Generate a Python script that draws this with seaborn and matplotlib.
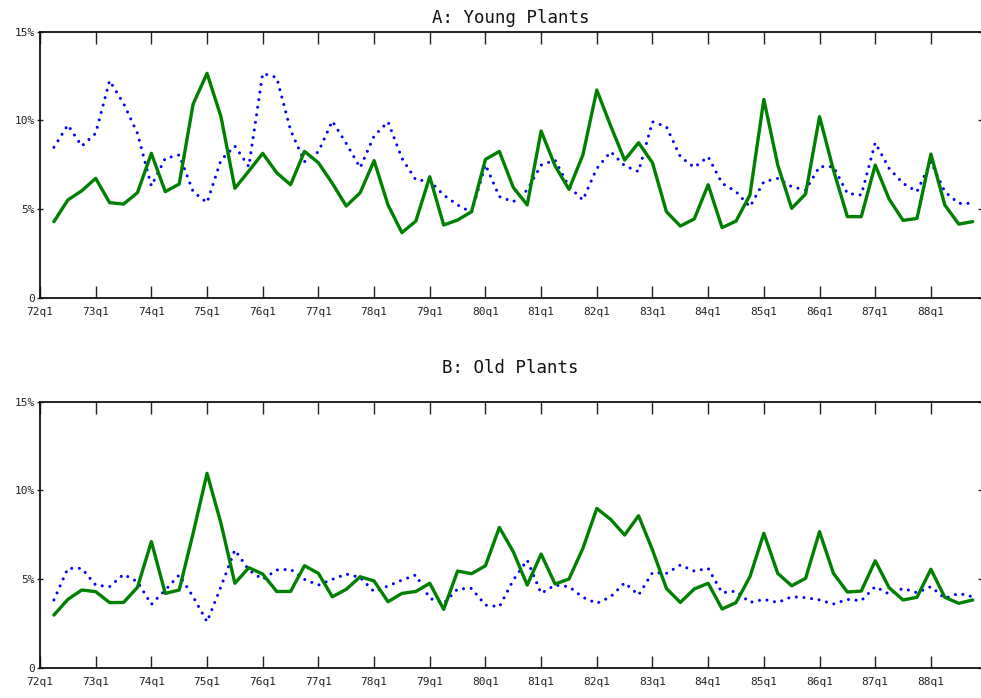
import numpy as np
import pandas as pd
import matplotlib
matplotlib.use("Agg")
import matplotlib.pyplot as plt
import seaborn as sns

# Quarterly periods 72q2 .. 88q4 (index 0 = 72q1)
years = list(range(72, 89))
tick_labels = [f"{y}q1" for y in years]

young_solid = [4.29, 5.51, 6.03, 6.73, 5.36, 5.28, 5.92, 8.14, 5.98, 6.41, 10.92, 12.65,
               10.21, 6.17, 7.14, 8.14, 7.05, 6.37, 8.25, 7.61, 6.45, 5.17, 5.92, 7.73,
               5.23, 3.67, 4.32, 6.82, 4.10, 4.38, 4.85, 7.80, 8.25, 6.22, 5.23, 9.40,
               7.44, 6.11, 8.05, 11.71, 9.68, 7.76, 8.74, 7.61, 4.85, 4.04, 4.44, 6.37,
               3.95, 4.32, 5.79, 11.18, 7.48, 5.04, 5.85, 10.21, 7.20, 4.57, 4.57, 7.48,
               5.56, 4.36, 4.47, 8.10, 5.23, 4.15, 4.29]
young_dotted = [8.48, 9.74, 8.55, 9.27, 12.24, 10.96, 9.27, 6.30, 7.86, 8.05, 5.98, 5.36,
                7.76, 8.55, 7.39, 12.65, 12.42, 9.45, 7.67, 8.23, 9.96, 8.70, 7.33, 9.12,
                9.92, 7.86, 6.64, 6.58, 5.79, 5.23, 4.81, 7.50, 5.70, 5.41, 6.07, 7.48,
                7.76, 6.26, 5.51, 7.29, 8.23, 7.44, 7.11, 9.92, 9.64, 7.95, 7.35, 7.95,
                6.45, 5.98, 5.13, 6.54, 6.73, 6.26, 6.07, 7.39, 7.39, 5.88, 5.79, 8.74,
                7.29, 6.45, 5.98, 7.67, 5.98, 5.32, 5.32]
old_solid = [2.97, 3.85, 4.38, 4.29, 3.67, 3.68, 4.53, 7.11, 4.19, 4.38, 7.58, 10.96,
             8.14, 4.76, 5.64, 5.28, 4.30, 4.30, 5.75, 5.32, 4.00, 4.42, 5.13, 4.89,
             3.72, 4.19, 4.30, 4.76, 3.29, 5.45, 5.30, 5.75, 7.91, 6.54, 4.66, 6.41,
             4.72, 5.00, 6.73, 8.98, 8.36, 7.48, 8.57, 6.64, 4.47, 3.68, 4.44, 4.76,
             3.31, 3.67, 5.13, 7.58, 5.32, 4.62, 5.04, 7.67, 5.32, 4.27, 4.32, 6.03,
             4.51, 3.82, 3.97, 5.55, 3.97, 3.63, 3.82]
old_dotted = [3.82, 5.60, 5.60, 4.66, 4.57, 5.26, 4.85, 3.57, 4.38, 5.23, 4.00, 2.59,
              4.57, 6.64, 5.51, 4.98, 5.51, 5.55, 4.98, 4.66, 4.98, 5.28, 5.09, 4.29,
              4.61, 4.94, 5.23, 3.91, 3.63, 4.44, 4.47, 3.53, 3.44, 4.94, 6.07, 4.19,
              4.66, 4.57, 3.97, 3.63, 4.00, 4.79, 4.10, 5.36, 5.32, 5.79, 5.45, 5.60,
              4.23, 4.32, 3.68, 3.85, 3.68, 4.00, 3.95, 3.82, 3.59, 3.85, 3.78, 4.57,
              4.15, 4.47, 4.23, 4.57, 3.91, 4.19, 4.00]

titles = ["A: Young Plants", "B: Old Plants"]
ytick_vals = [0, 5, 10, 15]
ytick_labels = ["0", "5%", "10%", "15%"]

sns.set_theme(style="white")
plt.rcParams['font.family'] = ['DejaVu Sans Mono', 'DejaVu Sans']

fig = plt.figure(figsize=(9.81, 6.98), dpi=100)
W, H = 981, 698
left = 40 / W
width = (981 - 40) / W
panels = [
    (titles[0], young_solid, young_dotted, 31.7, 297.7, 18),
    (titles[1], old_solid, old_dotted, 401.7, 667.7, 368),
]
x_idx = np.arange(1, len(young_solid) + 1)

for title, solid, dotted, ytop, ybot, ytitle in panels:
    ax = fig.add_axes([left, 1 - ybot / H, width, (ybot - ytop) / H])
    df = pd.DataFrame({"q": x_idx, "solid": solid, "dotted": dotted})
    sns.lineplot(data=df, x="q", y="dotted", ax=ax, color="#0000ff", lw=2.2)
    ln = ax.lines[-1]
    ln.set_linestyle((0, (0.01, 2.5)))
    ln.set_dash_capstyle("round")
    sns.lineplot(data=df, x="q", y="solid", ax=ax, color="#008000", lw=2.4)
    ax.set_xlim(0, 67.6)
    ax.set_ylim(0, 15)
    ax.set_xlabel("")
    ax.set_ylabel("")
    ax.set_xticks(np.arange(0, 68, 4))
    ax.set_xticklabels(tick_labels)
    ax.set_yticks(ytick_vals)
    ax.set_yticklabels(ytick_labels)
    ax.tick_params(axis="x", direction="in", length=8.5, width=1.0, color="#222222",
                   top=True, bottom=True, labelsize=8, pad=7, labelcolor="#222222")
    ax.tick_params(axis="y", direction="inout", length=5, width=1.0, color="#222222",
                   left=True, right=True, labelsize=8, pad=1, labelcolor="#222222")
    for s in ax.spines.values():
        s.set_color("#111111")
        s.set_linewidth(1.3)
    ax.spines["right"].set_visible(False)
    fig.text((40 + 981) / 2 / W, 1 - ytitle / H, title, ha="center", va="center",
             fontsize=12.5, color="#111111")

fig.savefig("out.png", dpi=100)
